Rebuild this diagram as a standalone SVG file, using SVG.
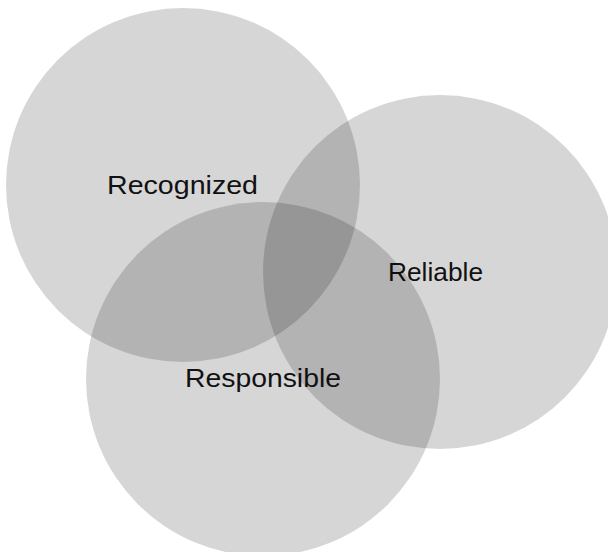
<svg xmlns="http://www.w3.org/2000/svg" width="608" height="552" viewBox="0 0 608 552">
<style>
.c{fill:#000;fill-opacity:0.16;stroke:none}
.t{font-family:"Liberation Sans",Arial,sans-serif;font-size:25.5px;fill:#111}
</style>
<rect width="608" height="552" fill="#fff"/>
<g id="recognized"><circle class="c" cx="183" cy="185" r="177"/><text class="t" x="107" y="194" textLength="151" lengthAdjust="spacingAndGlyphs">Recognized</text></g>
<g id="reliable"><circle class="c" cx="440" cy="272" r="177"/><text class="t" x="388" y="281" textLength="95" lengthAdjust="spacingAndGlyphs">Reliable</text></g>
<g id="responsible"><circle class="c" cx="263" cy="379" r="177"/><text class="t" x="185" y="387" textLength="156" lengthAdjust="spacingAndGlyphs">Responsible</text></g>
<g id="connectors"/>
</svg>
